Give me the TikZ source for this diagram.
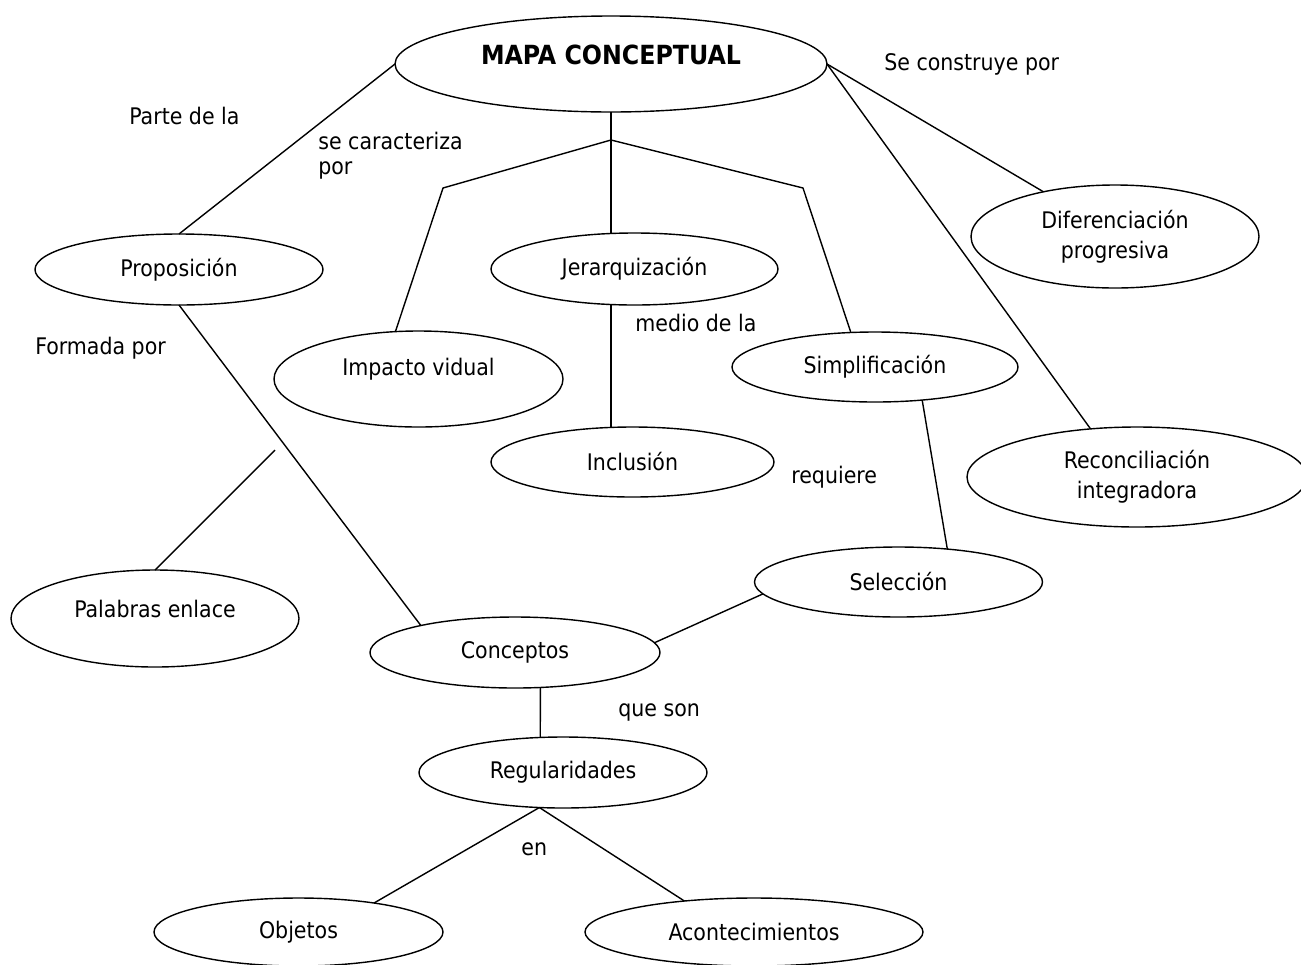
\documentclass[tikz,border=0pt]{standalone}
\usepackage{fontspec}
\setmainfont{DejaVu Sans Condensed}
\usetikzlibrary{shapes.geometric}
\newlength{\du}
\setlength{\du}{0.02cm}

\begin{document}
\begin{tikzpicture}[x=\du,y=-\du,
  every node/.style={font=\fontsize{13}{17}\selectfont},
  concepto/.style={ellipse,draw,line width=0.8pt,inner sep=0pt,outer sep=0pt,align=center},
  enlace/.style={anchor=west,inner sep=0pt},
  conector/.style={line width=0.8pt}]
\useasboundingbox (0,0) rectangle (1301,964);
% ellipses
\node[concepto,minimum width=432\du,minimum height=96\du,font=\fontsize{15}{18}\selectfont\bfseries] (mapa) at (611,64){\raisebox{9\du}[\height][\depth]{MAPA CONCEPTUAL}};
\node[concepto,minimum width=288\du,minimum height=71\du] (prop) at (179,269.5){Proposición};
\node[concepto,minimum width=287\du,minimum height=72\du] (jerar) at (634.5,269){Jerarquización};
\node[concepto,minimum width=289\du,minimum height=96\du] (impacto) at (418.5,379){\raisebox{10\du}[\height][\depth]{Impacto vidual}};
\node[concepto,minimum width=286\du,minimum height=70\du] (simp) at (875,367){Simplificación};
\node[concepto,minimum width=288\du,minimum height=103\du] (difer) at (1115,236.5){Diferenciación\\progresiva};
\node[concepto,minimum width=340\du,minimum height=100\du] (recon) at (1137,477){Reconciliación\\integradora};
\node[concepto,minimum width=283\du,minimum height=70\du] (inclu) at (632.5,462){Inclusión};
\node[concepto,minimum width=288\du,minimum height=97\du] (palab) at (155,618.5){\raisebox{10\du}[\height][\depth]{Palabras enlace}};
\node[concepto,minimum width=290\du,minimum height=71\du] (conc) at (515,652.5){Conceptos};
\node[concepto,minimum width=288\du,minimum height=70\du] (selec) at (898.5,582){Selección};
\node[concepto,minimum width=288\du,minimum height=71\du] (regul) at (563,772.5){Regularidades};
\node[concepto,minimum width=289\du,minimum height=68\du] (obj) at (298.5,932){Objetos};
\node[concepto,minimum width=338\du,minimum height=68\du] (acon) at (754,932){Acontecimientos};
% link words
\node[enlace] (parte) at (129,116){Parte de la};
\node[enlace] (carac) at (318,141){se caracteriza};
\node[enlace] (caracpor) at (318,170){por};
\node[enlace] (construye) at (884,64){Se construye por};
\node[enlace] (formada) at (35,348){Formada por};
\node[enlace] (medio) at (635,323){medio de la};
\node[enlace] (requiere) at (791,477){requiere};
\node[enlace] (queson) at (618,712){que son};
\node[enlace] (en) at (521,849){en};
% connectors
\coordinate (rama) at (611,140);
\coordinate (codoizq) at (443,188);
\coordinate (cododer) at (803,188);
\coordinate (suelto) at (275,450);
\draw[conector] (mapa.west) -- (prop.north);
\draw[conector] (mapa.south) -- (rama);
\draw[conector] (rama) -- (codoizq) -- (impacto.116);
\draw[conector] (rama) -- (cododer) -- (simp.125);
\draw[conector] (rama) -- (rama |- jerar.north);
\draw[conector] (jerar.south -| rama) -- (inclu.north -| rama);
\draw[conector] (mapa.east) -- (difer.148);
\draw[conector] (mapa.east) -- (recon.134);
\draw[conector] (simp.-35) -- (selec.34);
\draw[conector] (selec.185) -- (conc.4);
\draw[conector] (prop.south) -- (conc.164);
\draw[conector] (suelto) -- (palab.north);
\draw[conector] (conc.-54) -- (regul.123);
\draw[conector] (regul.-124) -- (obj.21);
\draw[conector] (regul.-124) -- (acon.156);
\end{tikzpicture}
\end{document}
